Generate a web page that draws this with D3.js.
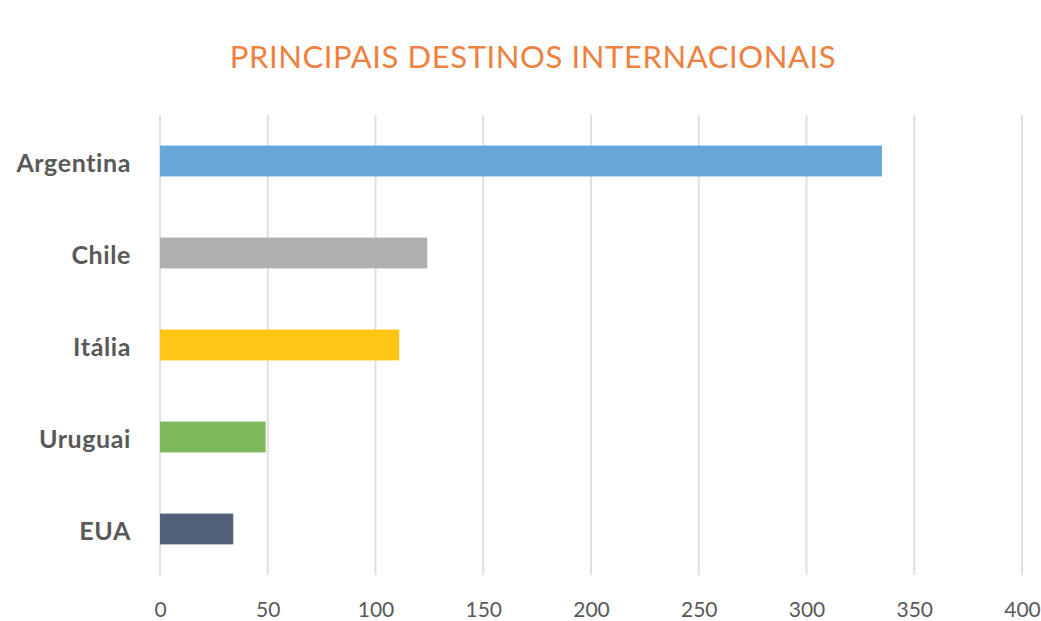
<!DOCTYPE html>
<html>
<head>
<meta charset="utf-8">
<script src="https://cdn.jsdelivr.net/npm/d3@7"></script>
<style>
  body { margin: 0; background: #fff; }
  #graph { width: 1041px; height: 621px; }
  .tick text { font-family: Lato, "Open Sans", sans-serif; }
</style>
</head>
<body>
<div id="graph"></div>
<script>
// Chart data
const title = "PRINCIPAIS DESTINOS INTERNACIONAIS"
const categories = ["Argentina", "Chile", "Itália", "Uruguai", "EUA"]
const values = [335, 124, 111, 49, 34]
const colors = ["#67A7DA", "#B0B0B0", "#FFC514", "#7DB85A", "#53627A"]
const xTicks = [0, 50, 100, 150, 200, 250, 300, 350, 400]

const width = 1041
const height = 621
const margin = { left: 160, right: 19, top: 115, bottom: 46 }

const svg = d3.select("#graph")
  .append("svg")
  .attr("width", width)
  .attr("height", height)

// x scale for values
const xScale = d3.scaleLinear()
  .domain([0, 400])
  .range([margin.left, width - margin.right])

// y scale for countries
const yScale = d3.scaleBand()
  .domain(categories)
  .range([margin.top, height - margin.bottom])
  .paddingInner(0.665)
  .paddingOuter(0.3325)

// vertical grid
svg.append("g")
  .attr("class", "axis-grid")
  .selectAll("line")
  .data(xTicks)
  .enter()
  .append("line")
  .attr("x1", d => xScale(d))
  .attr("x2", d => xScale(d))
  .attr("y1", margin.top)
  .attr("y2", height - margin.bottom)
  .attr("stroke", "#E0E0E0")
  .attr("stroke-width", 2)

// bars
svg.selectAll("rect.bar")
  .data(values)
  .enter()
  .append("rect")
  .attr("class", "bar")
  .attr("x", xScale(0))
  .attr("y", (d, i) => yScale(categories[i]))
  .attr("width", d => xScale(d) - xScale(0))
  .attr("height", yScale.bandwidth())
  .attr("fill", (d, i) => colors[i])

// x axis labels
const xAxis = d3.axisBottom(xScale).tickValues(xTicks).tickSize(0).tickPadding(27)
const gx = svg.append("g")
  .attr("transform", `translate(0,${height - margin.bottom})`)
  .call(xAxis)
gx.select(".domain").remove()
gx.selectAll("text")
  .attr("fill", "#595959")
  .style("font-size", "21px")

// y axis labels
const yAxis = d3.axisLeft(yScale).tickSize(0).tickPadding(29)
const gy = svg.append("g")
  .attr("transform", `translate(${margin.left},0)`)
  .call(yAxis)
gy.select(".domain").remove()
gy.selectAll("text")
  .attr("fill", "#595959")
  .attr("dy", "0.45em")
  .style("font-size", "25px")
  .style("letter-spacing", "0.6px")
  .style("font-weight", "bold")

// title
svg.append("text")
  .attr("text-anchor", "middle")
  .attr("x", 533)
  .attr("y", 68)
  .attr("fill", "#EE8140")
  .style("font-family", "Lato, 'Open Sans', sans-serif")
  .style("font-size", "31px")
  .style("letter-spacing", "0.6px")
  .text(title)
</script>
</body>
</html>
